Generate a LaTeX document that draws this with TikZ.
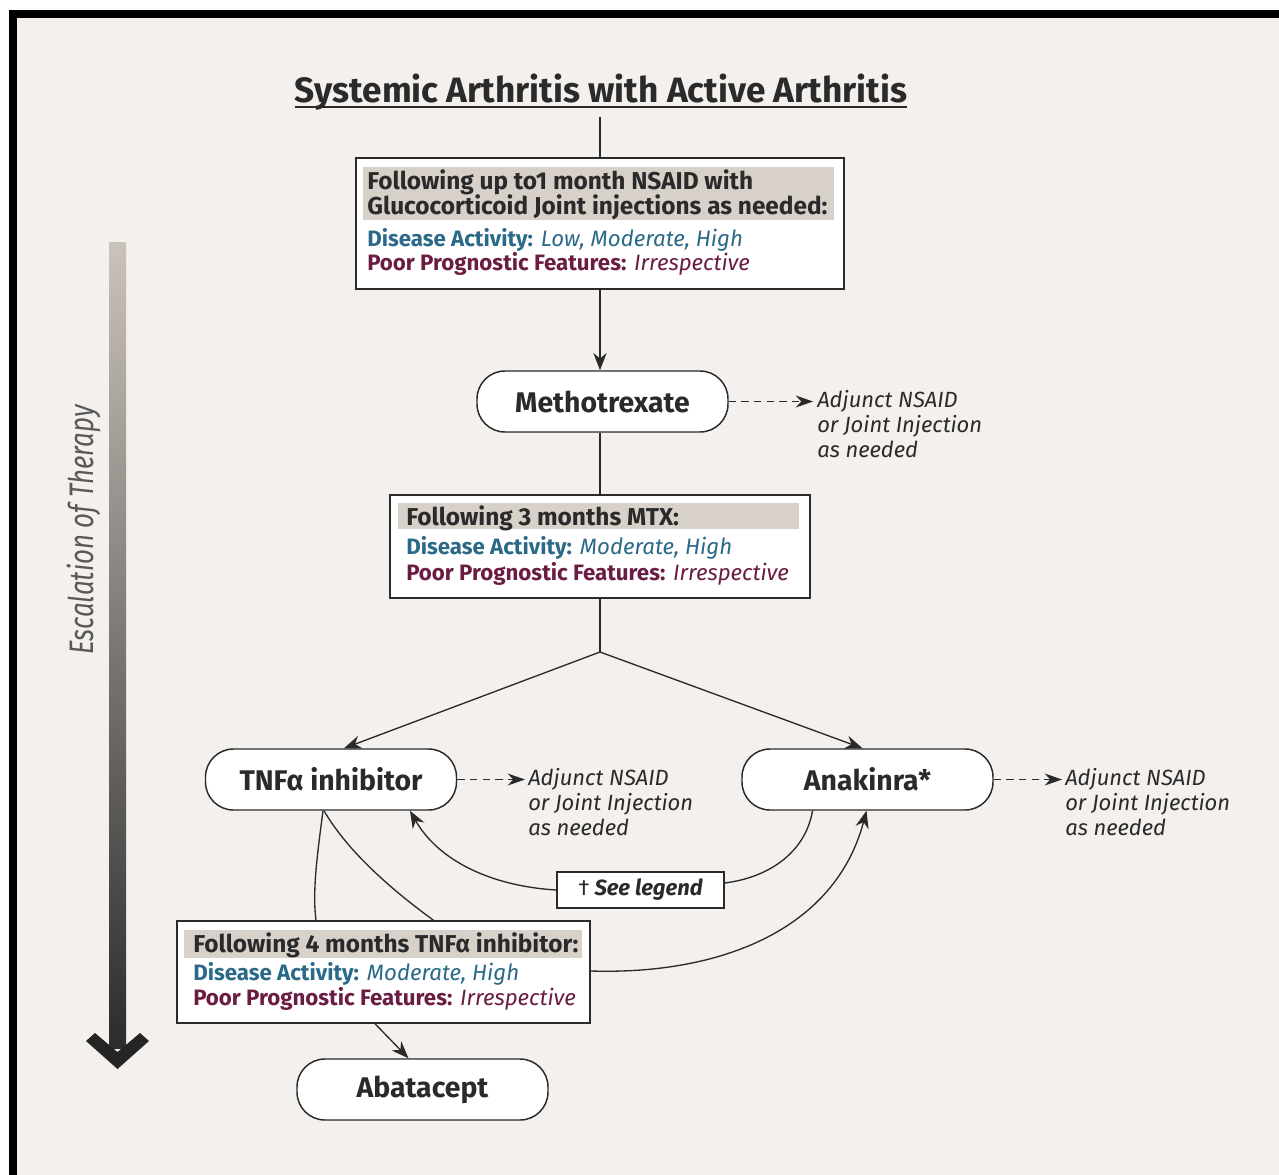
\documentclass[tikz,border=0pt]{standalone}
\usepackage{fontspec}
\setmainfont{Fira Sans}
\usetikzlibrary{arrows.meta,calc}

\definecolor{paper}{HTML}{F3F0ED}
\definecolor{hdrgray}{HTML}{D8D1CA}
\definecolor{actblue}{HTML}{2A6A88}
\definecolor{progred}{HTML}{6B1C42}
\definecolor{ink}{HTML}{2A2A2A}
\definecolor{shafttop}{HTML}{CAC3BB}
\definecolor{shaftbot}{HTML}{2C2C2C}

\newcommand\titlefont{\fontsize{26.4}{30}\selectfont\bfseries}
\newcommand\drugfont{\fontsize{21.3}{25}\selectfont\bfseries}
\newcommand\hdrfont{\fontsize{18.3}{21}\selectfont\bfseries}
\newcommand\linefont{\fontsize{16.7}{19}\selectfont}
\newcommand\notefont{\fontsize{16.5}{18.75}\selectfont\itshape}

\begin{document}
\begin{tikzpicture}[x=0.75pt,y=-0.75pt,
  drugbox/.style={draw=ink, line width=1.1pt, fill=white, rounded corners=21pt,
    minimum width=188.25pt, minimum height=45.75pt, inner sep=0pt,
    font=\drugfont, text=ink},
  infobox/.style={draw=ink, line width=1.1pt, fill=white, inner sep=0pt},
  hdrfill/.style={fill=hdrgray, inner sep=0pt},
  hdrtext/.style={anchor=base west, inner sep=0pt, font=\hdrfont, text=ink},
  actline/.style={anchor=base west, inner sep=0pt, font=\linefont, text=actblue},
  progline/.style={anchor=base west, inner sep=0pt, font=\linefont, text=progred},
  note/.style={anchor=north west, inner sep=0pt, align=left, font=\notefont, text=ink},
  conn/.style={draw=ink, line width=1pt},
  arr/.style={conn, -{Stealth[length=13pt, width=10pt]}},
  dasharr/.style={conn, dash pattern=on 5.5pt off 4pt, -{Stealth[length=13pt, width=9pt]}},
]
\useasboundingbox (0,0) rectangle (1279,1175);

% page frame and paper
\fill[white] (0,0) rectangle (1279,1175);
\fill[black] (9,10) rectangle (1279,1175);
\fill[paper] (17,18) rectangle (1279,1175);

% escalation bar on the left
\shade[top color=shafttop, bottom color=shaftbot] (109,242) rectangle (126,1048);
\fill[shaftbot!85!black] (86,1041) -- (95,1033) -- (117.5,1052) -- (140,1033) -- (149,1041) -- (117.5,1069) -- cycle;
\node[rotate=90, inner sep=0pt, text=ink!78, font=\fontsize{25.5}{28}\selectfont\itshape] (escal) at (84,530)
  {\scalebox{0.76}[1]{Escalation of Therapy}};

% title
\node[anchor=base, inner sep=0pt, font=\titlefont, text=ink] (title) at (601,102)
  {Systemic Arthritis with Active Arthritis};
\draw[ink, line width=1.3pt] ($(title.base west)+(0,5)$) -- ($(title.base east)+(0,5)$);

% first decision box
\node[infobox, minimum width=366pt, minimum height=98.25pt] (box1) at (600,223.5) {};
\node[hdrfill, minimum width=353.25pt, minimum height=39.75pt] (box1h) at (598.5,193.5) {};
\node[hdrtext] (b1a) at (367,189) {Following up to1 month NSAID with};
\node[hdrtext] (b1b) at (367,214) {Glucocorticoid Joint injections as needed:};
\node[actline] (b1c) at (367,246) {\textbf{Disease Activity:} \textit{Low, Moderate, High}};
\node[progline] (b1d) at (367,270) {\textbf{Poor Prognostic Features:} \textit{Irrespective}};

% methotrexate
\node[drugbox] (mtx) at (602.5,401.5) {Methotrexate};
\node[note] (mtxnote) at (817,390) {Adjunct NSAID\\or Joint Injection\\as needed};

% second decision box
\node[infobox, minimum width=315pt, minimum height=77.25pt] (box2) at (600,546.5) {};
\node[hdrfill, minimum width=300.75pt, minimum height=19.5pt] (box2h) at (598.5,516) {};
\node[hdrtext] (b2a) at (406,525) {Following 3 months MTX:};
\node[actline] (b2b) at (406,554) {\textbf{Disease Activity:} \textit{Moderate, High}};
\node[progline] (b2c) at (406,580) {\textbf{Poor Prognostic Features:} \textit{Irrespective}};
\coordinate (split) at (600,652);

% biologics
\node[drugbox] (tnf) at (331,779.5) {TNFα inhibitor};
\node[note] (tnfnote) at (528,768) {Adjunct NSAID\\or Joint Injection\\as needed};
\node[drugbox] (anak) at (867.5,779.5) {Anakinra*};
\node[note] (anaknote) at (1065,768) {Adjunct NSAID\\or Joint Injection\\as needed};

\node[infobox, minimum width=125.25pt, minimum height=27pt,
  font=\fontsize{16.5}{19}\selectfont\bfseries\itshape, text=ink] (legend) at (640.5,890)
  {{\upshape\mdseries †} See legend};

% third decision box
\node[infobox, minimum width=309.75pt, minimum height=76.5pt] (box3) at (383.5,972) {};
\node[hdrfill, minimum width=298.5pt, minimum height=21pt] (box3h) at (383,944) {};
\node[hdrtext] (b3a) at (193,952) {Following 4 months TNFα inhibitor:};
\node[actline] (b3b) at (193,980) {\textbf{Disease Activity:} \textit{Moderate, High}};
\node[progline] (b3c) at (193,1005) {\textbf{Poor Prognostic Features:} \textit{Irrespective}};

\node[drugbox] (abat) at (422.5,1089.5) {Abatacept};

% connectors
\draw[conn] ($(title.south)+(-1,7)$) -- (box1.north);
\draw[arr] (box1.south) -- (box1.south |- mtx.north);
\draw[dasharr] (mtx.east) -- ($(mtx.east -| mtxnote.west)+(-4,0)$);
\draw[conn] (mtx.south -| box2.north) -- (box2.north);
\draw[conn] (box2.south) -- (split);
\draw[arr] (split) -- ($(tnf.north)+(13,0)$);
\draw[arr] (split) -- ($(anak.north)+(-5,0)$);
\draw[dasharr] (tnf.east) -- ($(tnf.east -| tnfnote.west)+(-3,0)$);
\draw[dasharr] (anak.east) -- ($(anak.east -| anaknote.west)+(-3,0)$);

\draw[conn] ($(anak.south)+(-55,0)$) .. controls (806,850) and (772,877) .. ($(legend.east)+(0,-7)$);
\draw[arr] ($(legend.west)+(0,0)$) .. controls (490,886) and (438,860) .. ($(tnf.south)+(79,0)$);
\draw[arr] ($(box3.east)+(0,-1)$) .. controls (720,975) and (835,930) .. ($(anak.south)+(-1,0)$);

\draw[conn] ($(tnf.south)+(-8,0)$) .. controls (318,850) and (312,890) .. ($(box3.north)+(-67.5,0)$);
\draw[conn] ($(tnf.south)+(-7,0)$) .. controls (348,852) and (392,890) .. ($(box3.north)+(50,0)$);
\draw[arr] ($(box3.south)+(-8.5,0)$) -- ($(abat.north)+(-14,0)$);
\end{tikzpicture}
\end{document}
